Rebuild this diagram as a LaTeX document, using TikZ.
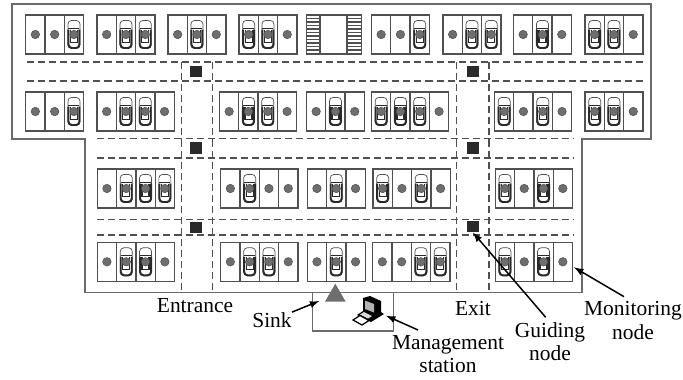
\documentclass[tikz,border=0pt]{standalone}
\usepackage{fontspec}
\setmainfont{Liberation Serif}
\usetikzlibrary{shapes.geometric}
\definecolor{WallGray}{HTML}{6A6A6A}
\definecolor{BayGray}{HTML}{505050}
\definecolor{DotGray}{HTML}{6E6E6E}
\definecolor{DarkLine}{HTML}{2A2A2A}

\newcommand{\parkgroup}[4]{%
  \foreach \kind [count=\i] in {#4} {
    \pgfmathsetmacro{\xc}{#2+(\i-0.5)*19.3}
    \pgfmathsetmacro{\yc}{#3+19.5}
    \node[bay] (#1-\i) at (\xc,\yc) {};
    \if\kind c \pic at (\xc,\yc) {car}; \fi
    \node[sensor] (#1-\i-dot) at (\xc,\yc) {};
  }%
}

\begin{document}
\begin{tikzpicture}[
  x=0.02cm, y=-0.02cm,
  bay/.style={rectangle, draw=BayGray, line width=0.75pt, minimum width=0.386cm, minimum height=0.78cm, inner sep=0pt, outer sep=0pt},
  sensor/.style={circle, draw=BayGray, line width=0.3pt, fill=DotGray, minimum size=0.17cm, inner sep=0pt},
  guide/.style={rectangle, fill=DarkLine, minimum width=0.25cm, minimum height=0.23cm, inner sep=0pt},
  lane/.style={dashed, dash pattern=on 4pt off 2.3pt, draw=BayGray, line width=0.75pt},
  wall/.style={draw=WallGray, line width=0.85pt},
  pointer/.style={-latex, line width=0.85pt, draw=black},
  caption/.style={align=center, font=\fontsize{12.2}{13.2}\selectfont, inner sep=0pt},
  pics/car/.style={code={
    \draw[draw=BayGray, line width=0.4pt, fill=white, rounded corners=2pt] (-6,-14) rectangle (6,14);
    \draw[draw=DarkLine, line width=1.1pt, rounded corners=2pt] (-5.5,-5) -- (-5.5,13.5) -- (5.5,13.5) -- (5.5,-5);
    \draw[draw=DarkLine, line width=0.5pt] (-5.5,-6) -- (5.5,-6);
    \draw[draw=DarkLine, line width=0.7pt] (-3.5,-5) -- (-3.5,8) -- (3.5,8) -- (3.5,-5);
  }}
]
\useasboundingbox (0,0) rectangle (683,379);

\draw[wall] (12,4) -- (651,4) -- (651,139) -- (582,139) -- (582,292.7) -- (85,292.7) -- (85,139) -- (12,139) -- cycle;

\draw[lane] (27,62) -- (643,62);
\draw[lane] (27,81) -- (643,81);
\draw[lane] (97,138.5) -- (573,138.5);
\draw[lane] (97,158) -- (573,158);
\draw[lane] (97,219.5) -- (573,219.5);
\draw[lane] (97,235) -- (573,235);
\draw[lane] (181.7,62) -- (181.7,292);
\draw[lane] (212.3,62) -- (212.3,292);
\draw[lane] (456.7,62) -- (456.7,292);
\draw[lane] (489,62) -- (489,292);

\parkgroup{ra}{25.7}{15}{d,d,c}
\parkgroup{rb}{97}{15}{d,c,c}
\parkgroup{rc}{168}{15}{d,c,d}
\parkgroup{rd}{239}{15}{c,c,d}
\parkgroup{re}{371.5}{15}{d,d,c}
\parkgroup{rf}{443}{15}{d,c,c}
\parkgroup{rg}{513.5}{15}{d,c,d}
\parkgroup{rh}{585}{15}{c,c,d}

\parkgroup{sa}{25.7}{92}{d,d,c}
\parkgroup{sb}{97}{92}{d,c,c,d}
\parkgroup{sc}{219.5}{92}{d,c,c,d}
\parkgroup{sd}{306.5}{92}{d,c,d}
\parkgroup{se}{371.5}{92}{c,c,c,d}
\parkgroup{sf}{494.5}{92}{c,d,c,d}
\parkgroup{sg}{585}{92}{c,c,d}

\parkgroup{ta}{97.3}{169}{d,c,c,c}
\parkgroup{tb}{220.7}{169}{d,c,d,d}
\parkgroup{tc}{307.3}{169}{d,c,d}
\parkgroup{td}{373}{169}{c,d,c,d}
\parkgroup{te}{495.3}{169}{c,d,c,d}

\parkgroup{ua}{97.3}{242.3}{d,c,c,d}
\parkgroup{ub}{220.7}{242.3}{d,c,c,d}
\parkgroup{uc}{307.3}{242.3}{d,c,d}
\parkgroup{ud}{372.7}{242.3}{d,d,c,c}
\parkgroup{ue}{495.3}{242.3}{c,d,c,d}

\draw[bay] (306.5,15) rectangle (361.5,54);
\draw[bay] (320,15) -- (320,54);
\draw[bay] (347,15) -- (347,54);
\foreach \ys in {18.5,22,25.5,29,32.5,36,39.5,43,46.5,50} {
  \draw[draw=BayGray, line width=0.6pt] (306.5,\ys) -- (320,\ys);
  \draw[draw=BayGray, line width=0.6pt] (347,\ys) -- (361.5,\ys);
}

\node[guide] (guide1) at (196,71.5) {};
\node[guide] (guide2) at (196,148) {};
\node[guide] (guide3) at (196,227.5) {};
\node[guide] (guide4) at (473,71.5) {};
\node[guide] (guide5) at (473,148) {};
\node[guide] (guide6) at (473,226.5) {};

\draw[wall] (312.3,292.7) -- (312.3,331) -- (393.3,331) -- (393.3,292.7);
\node[regular polygon, regular polygon sides=3, fill=DotGray, minimum size=0.48cm, inner sep=0pt] (sink) at (335.3,295.7) {};

\fill[black] (357,315) -- (363,311) -- (363,298) -- (370,296) -- (381,301) -- (381,312) -- (384,314) -- (371,322) -- cycle;
\fill[white!70!black] (365,300.5) -- (374,304) -- (374,312.5) -- (365,309) -- cycle;
\fill[white!85!black] (360,314.5) -- (364,312) -- (372,316) -- (368,318.5) -- cycle;
\draw[draw=black, line width=0.7pt, fill=white] (353,320) -- (360,315.5) -- (369,320.5) -- (362,325) -- cycle;

\node[caption] (entrance) at (195,306) {Entrance};
\node[caption] (exit) at (473,308.5) {Exit};
\node[caption] (sinklabel) at (272,320) {Sink};
\node[caption] (station) at (448,354) {Management\\station};
\node[caption] (guiding) at (550,341.5) {Guiding\\node};
\node[caption] (monitoring) at (633,320.5) {Monitoring\\node};

\coordinate (sinktip) at (319.3,301);
\coordinate (pctip) at (386,315.7);
\coordinate (pctail) at (418,330);
\coordinate (guidetail) at (545.7,317.3);
\coordinate (montip) at (574,267.3);
\coordinate (montail) at (624,296.7);

\draw[pointer] (sinklabel.north east) -- (sinktip);
\draw[pointer] (pctail) -- (pctip);
\draw[pointer] (guidetail) -- (guide6.south);
\draw[pointer] (montail) -- (montip);
\end{tikzpicture}
\end{document}
